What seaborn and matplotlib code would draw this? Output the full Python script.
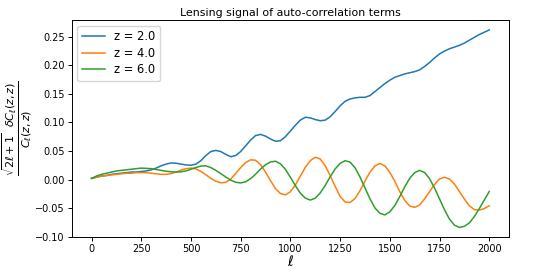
import numpy as np
import pandas as pd
import matplotlib
matplotlib.use('Agg')
import matplotlib.pyplot as plt
import seaborn as sns

# multipole grid, step 25
ell = list(range(0, 2001, 25))

# values
sig_z2 = [0.002, 0.004, 0.006, 0.007, 0.009, 0.010, 0.011, 0.012, 0.013, 0.013,
          0.014, 0.015, 0.017, 0.020, 0.024, 0.027, 0.029, 0.0285, 0.027, 0.0255,
          0.025, 0.027, 0.033, 0.042, 0.049, 0.051, 0.049, 0.044, 0.040, 0.042,
          0.049, 0.059, 0.069, 0.077, 0.079, 0.076, 0.071, 0.067, 0.068, 0.075,
          0.085, 0.095, 0.104, 0.109, 0.108, 0.105, 0.103, 0.104, 0.110, 0.119,
          0.129, 0.137, 0.141, 0.143, 0.144, 0.144, 0.147, 0.154, 0.161, 0.168,
          0.174, 0.179, 0.182, 0.185, 0.187, 0.189, 0.192, 0.198, 0.205, 0.213,
          0.220, 0.225, 0.229, 0.232, 0.235, 0.239, 0.244, 0.249, 0.254, 0.258,
          0.262]

sig_z4 = [0.002, 0.004, 0.006, 0.007, 0.008, 0.009, 0.010, 0.011, 0.011, 0.012,
          0.012, 0.012, 0.011, 0.010, 0.009, 0.009, 0.0104, 0.013, 0.0165, 0.019,
          0.020, 0.0185, 0.0141, 0.0083, 0.002, -0.003, -0.0058, -0.005, 0.0006, 0.0104,
          0.0209, 0.0297, 0.0345, 0.0337, 0.026, 0.013, -0.002, -0.016, -0.0245, -0.027,
          -0.0215, -0.0098, 0.006, 0.0212, 0.033, 0.039, 0.036, 0.024, 0.007, -0.012,
          -0.0293, -0.0394, -0.0403, -0.0334, -0.0196, -0.003, 0.0128, 0.0239, 0.028, 0.024,
          0.0126, -0.003, -0.0213, -0.0367, -0.0463, -0.0489, -0.0444, -0.034, -0.0212, -0.0087,
          0.0008, 0.004, 0.0008, -0.008, -0.021, -0.0343, -0.046, -0.0528, -0.0535, -0.051,
          -0.046]

sig_z6 = [0.002, 0.006, 0.009, 0.011, 0.013, 0.015, 0.016, 0.017, 0.018, 0.019,
          0.020, 0.0195, 0.019, 0.0175, 0.016, 0.0145, 0.0135, 0.013, 0.0135, 0.015,
          0.018, 0.021, 0.0235, 0.024, 0.0209, 0.016, 0.0104, 0.0044, -0.0012, -0.0048,
          -0.006, -0.004, 0.0016, 0.0092, 0.0183, 0.0259, 0.0307, 0.032, 0.0275, 0.0177,
          0.0041, -0.0108, -0.0238, -0.0326, -0.036, -0.0328, -0.0236, -0.0105, 0.0047, 0.0185,
          0.0282, 0.033, 0.0304, 0.0206, 0.0045, -0.0145, -0.0335, -0.0497, -0.0592, -0.062,
          -0.0568, -0.0456, -0.030, -0.0129, 0.002, 0.0121, 0.016, 0.0122, 0.0014, -0.015,
          -0.034, -0.053, -0.0694, -0.080, -0.084, -0.082, -0.076, -0.065, -0.051, -0.036,
          -0.021]

labels = ['z = 2.0', 'z = 4.0', 'z = 6.0']

df = pd.DataFrame({
    'ell': ell * 3,
    'signal': sig_z2 + sig_z4 + sig_z6,
    'z': [labels[0]] * len(ell) + [labels[1]] * len(ell) + [labels[2]] * len(ell),
})

fig = plt.figure(figsize=(5.51, 2.75), dpi=100)
ax = fig.add_axes([0.130, 0.137, 0.794, 0.790])
sns.lineplot(data=df, x='ell', y='signal', hue='z', palette='tab10',
             linewidth=1.1, ax=ax)

ax.set_title('Lensing signal of auto-correlation terms', fontsize=7.9, pad=3)
ax.set_xlabel(r'$\ell$', fontsize=10, labelpad=0)
ax.set_ylabel(r'$\frac{\sqrt{2\ell+1}\ \ \delta C_\ell(z,z)}{C_\ell(z,z)}$', fontsize=11.4, labelpad=1)
ax.set_xticks([0, 250, 500, 750, 1000, 1250, 1500, 1750, 2000])
ax.tick_params(labelsize=7, length=3, width=0.7, pad=2)
for s in ax.spines.values():
    s.set_linewidth(0.7)
ax.legend(loc='upper left', fontsize=8.3, handlelength=2.0, borderpad=0.4,
          labelspacing=0.3, frameon=True)

fig.savefig('out.png', dpi=100)
